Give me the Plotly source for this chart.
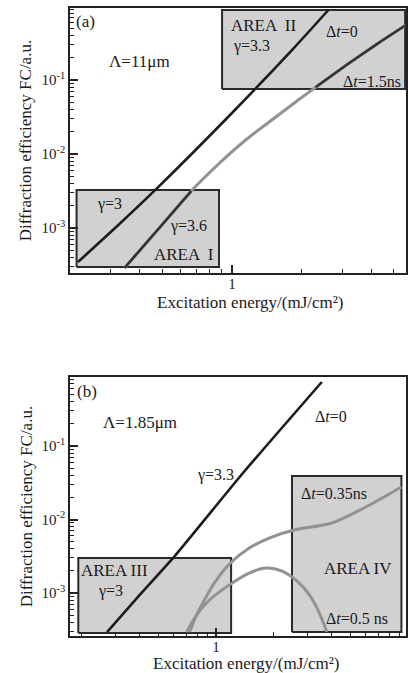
import plotly.graph_objects as go

# ---------------- data ----------------
# Panel (a)  Lambda = 11 um
a_t0_x = [0.216, 0.321, 0.476, 1.0, 1.85, 2.61]
a_t0_y = [3.47e-4, 1.08e-3, 3.48e-3, 0.0358, 0.270, 0.883]

a_t15_x = [0.343, 0.485, 0.667, 0.796, 0.942, 1.160, 1.443, 1.94, 2.30, 3.18, 4.29, 5.65]
a_t15_y = [2.88e-4, 1.0e-3, 3.16e-3, 5.53e-3, 9.10e-3, 0.01594, 0.0269, 0.0540, 0.0798, 0.1655, 0.315, 0.553]

# Panel (b)  Lambda = 1.85 um
b_t0_x = [0.271, 0.402, 0.610, 1.37, 3.56]
b_t0_y = [2.94e-4, 9.5e-4, 3.18e-3, 0.0416, 0.743]

b_t035_x = [0.729, 0.793, 0.872, 0.982, 1.175, 1.492, 1.893, 2.551, 4.01, 6.03, 9.25]
b_t035_y = [2.94e-4, 5.02e-4, 8.04e-4, 1.37e-3, 2.48e-3, 4.09e-3, 5.60e-3, 7.19e-3, 8.95e-3, 0.01479, 0.0277]

b_t05_x = [0.703, 0.793, 0.925, 1.175, 1.49, 1.83, 2.21, 2.61, 3.05, 3.44, 3.78]
b_t05_y = [2.94e-4, 5.02e-4, 8.04e-4, 1.29e-3, 1.87e-3, 2.19e-3, 1.99e-3, 1.50e-3, 9.69e-4, 5.51e-4, 2.94e-4]

# shaded areas: [x0, x1, y0, y1]
area_I = [0.213, 0.879, 2.97e-4, 3.27e-3]
area_II = [0.906, 5.6, 0.0755, 0.883]
area_III = [0.192, 1.20, 2.86e-4, 2.99e-3]
area_IV = [2.49, 9.25, 2.94e-4, 0.0391]

# axis ranges (log10)
a_xrange = [-0.70, 0.752]
a_yrange = [-3.608, -0.027]
b_xrange = [-0.76, 0.99]
b_yrange = [-3.585, -0.061]

y_major = [1e-3, 1e-2, 1e-1]
y_major_text = ["10<sup>-3</sup>", "10<sup>-2</sup>", "10<sup>-1</sup>"]
x_major = [1]
x_major_text = ["1"]

# ---------------- styling ----------------
W, H = 409, 673
ML, MR, MT, MB = 70, 1, 8, 37
PW, PH = W - ML - MR, H - MT - MB
FONT = "Liberation Serif, Times New Roman, serif"
DARK = "#1c1c1c"
GRAY = "#929292"
BOXFILL = "#d1d1d1"
BOXLINE = "#2a2a2a"
AX = "#222222"


def P(px, py):
    return (px - ML) / PW, (H - MB - py) / PH


fig = go.Figure()


def add_box(area, xa, ya):
    x0, x1, y0, y1 = area
    fig.add_trace(go.Scatter(x=[x0, x1, x1, x0, x0], y=[y0, y0, y1, y1, y0],
                             mode="lines", fill="toself", fillcolor=BOXFILL,
                             line=dict(color=BOXLINE, width=2),
                             xaxis=xa, yaxis=ya, hoverinfo="skip"))


def add_line(xs, ys, color, width, xa, ya, smooth=0.6):
    fig.add_trace(go.Scatter(x=xs, y=ys, mode="lines",
                             line=dict(color=color, width=width, shape="spline", smoothing=smooth),
                             xaxis=xa, yaxis=ya))


def inside(xs, ys, area):
    x0, x1, y0, y1 = area
    return [(x, y) for x, y in zip(xs, ys) if x0 * 0.97 <= x <= x1 * 1.03 and y0 * 0.95 <= y <= y1 * 1.05]


add_box(area_I, "x", "y")
add_box(area_II, "x", "y")
add_box(area_III, "x2", "y2")
add_box(area_IV, "x2", "y2")

# panel a
add_line(a_t0_x, a_t0_y, DARK, 2.6, "x", "y")
add_line(a_t15_x, a_t15_y, GRAY, 3.0, "x", "y", smooth=0.8)
for area in (area_I, area_II):
    pts = inside(a_t15_x, a_t15_y, area)
    add_line([p[0] for p in pts], [p[1] for p in pts], "#333333", 2.6, "x", "y")

# panel b
add_line(b_t0_x, b_t0_y, DARK, 2.6, "x2", "y2")
add_line(b_t035_x, b_t035_y, GRAY, 3.0, "x2", "y2", smooth=0.9)
add_line(b_t05_x, b_t05_y, GRAY, 3.0, "x2", "y2", smooth=0.9)


def minor_vals(lo, hi):
    vals = []
    for e in range(-5, 3):
        for m in range(2, 10):
            v = m * 10.0 ** e
            if 10 ** lo <= v <= 10 ** hi:
                vals.append(v)
    return vals


def common(rng):
    return dict(type="log", range=rng,
                showline=True, linecolor=AX, linewidth=1.6, mirror=True,
                ticks="inside", ticklen=8, tickwidth=1.5, tickcolor=AX,
                tickmode="array",
                minor=dict(tickmode="array", tickvals=minor_vals(*rng), ticks="inside",
                           ticklen=4, tickwidth=1.3, tickcolor=AX, showgrid=False),
                showgrid=False, zeroline=False, layer="above traces",
                tickfont=dict(family=FONT, size=15, color=AX))


def xaxis(rng, anchor):
    d = common(rng)
    d.update(domain=[0, 1], anchor=anchor, tickvals=x_major, ticktext=x_major_text,
             ticklabelstandoff=-4)
    return d


def yaxis(rng, dom, anchor):
    d = common(rng)
    d.update(domain=dom, anchor=anchor, tickvals=y_major, ticktext=y_major_text)
    return d


dom_a = [(H - MB - 273) / PH, 1]
dom_b = [0, (H - MB - 377) / PH]

fig.update_layout(
    width=W, height=H,
    margin=dict(l=ML, r=MR, t=MT, b=MB),
    paper_bgcolor="white", plot_bgcolor="white",
    showlegend=False,
    xaxis=xaxis(a_xrange, "y"),
    yaxis=yaxis(a_yrange, dom_a, "x"),
    xaxis2=xaxis(b_xrange, "y2"),
    yaxis2=yaxis(b_yrange, dom_b, "x2"),
    font=dict(family=FONT, color=AX),
)

labels = [
    ("(a)", 86, 21, 17), ("Λ=11μm", 140, 61, 17), ("AREA  II", 265, 26, 17),
    ("γ=3.3", 253, 46, 16), ("Δ<i>t</i>=0", 344, 32, 16), ("Δ<i>t</i>=1.5ns", 374, 81, 16),
    ("γ=3", 110, 204, 16), ("γ=3.6", 189, 226, 16), ("AREA  I", 185, 254, 17),
    ("(b)", 87, 391, 17), ("Λ=1.85μm", 140, 422, 17), ("γ=3.3", 216, 475, 16),
    ("AREA III", 115, 570, 17), ("γ=3", 111, 591, 16), ("Δ<i>t</i>=0", 333, 416, 16),
    ("Δ<i>t</i>=0.35ns", 336, 493, 16), ("AREA IV", 360, 568, 17), ("Δ<i>t</i>=0.5 ns", 359, 618, 16),
]
for text, px, py, size in labels:
    xp, yp = P(px, py)
    fig.add_annotation(x=xp, y=yp, xref="paper", yref="paper", text=text, showarrow=False,
                       xanchor="center", yanchor="middle",
                       font=dict(family=FONT, size=size, color="#1a1a1a"))

titles = [
    ("Diffraction efficiency FC/a.u.", 25, 141, -90),
    ("Excitation energy/(mJ/cm²)", 252, 303, 0),
    ("Diffraction efficiency FC/a.u.", 26, 507, -90),
    ("Excitation energy/(mJ/cm²)", 248, 663, 0),
]
for text, px, py, ang in titles:
    xp, yp = P(px, py)
    fig.add_annotation(x=xp, y=yp, xref="paper", yref="paper", text=text, showarrow=False,
                       textangle=ang, xanchor="center", yanchor="middle",
                       font=dict(family=FONT, size=17, color="#1a1a1a"))

fig.write_html("out.html", config={"displayModeBar": False},
               post_script="document.body.style.margin='0';")
